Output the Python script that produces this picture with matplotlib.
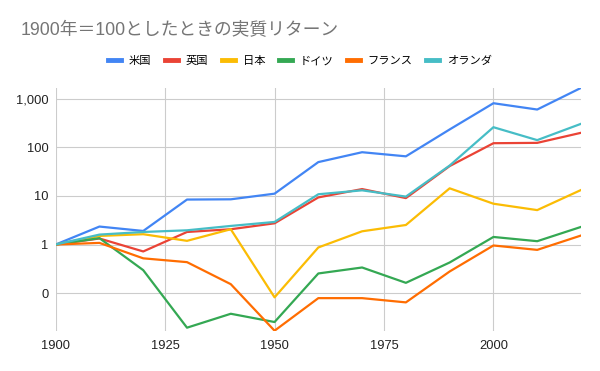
import numpy as np
import matplotlib
matplotlib.use('Agg')
import matplotlib.pyplot as plt
from matplotlib.ticker import FixedLocator, FixedFormatter

plt.rcParams['font.family'] = ['Liberation Sans', 'Noto Sans CJK JP', 'DejaVu Sans']

years = [1900, 1910, 1920, 1930, 1940, 1950, 1960, 1970, 1980, 1990, 2000, 2010, 2020]
usa = [1, 2.34, 1.90, 8.4, 8.5, 11.1, 49.5, 79, 65, 232, 803, 596, 1660]
uk = [1, 1.33, 0.72, 1.81, 2.06, 2.73, 9.3, 13.8, 9.0, 41, 121, 123, 198]
japan = [1, 1.50, 1.63, 1.19, 2.06, 0.082, 0.87, 1.87, 2.52, 14.3, 6.9, 5.1, 13.2]
germany = [1, 1.35, 0.297, 0.0195, 0.0377, 0.0255, 0.254, 0.337, 0.163, 0.427, 1.43, 1.17, 2.30]
france = [1, 1.08, 0.52, 0.434, 0.153, 0.0169, 0.079, 0.079, 0.0646, 0.279, 0.955, 0.776, 1.53]
netherlands = [1, 1.60, 1.81, 1.96, 2.41, 2.91, 10.8, 13.0, 9.66, 42, 258, 140, 303]

labels = ['米国', '英国', '日本', 'ドイツ', 'フランス', 'オランダ']
colors = ['#4285F4', '#EA4335', '#FBBC04', '#34A853', '#FF6D01', '#46BDC6']
series = [usa, uk, japan, germany, france, netherlands]

ytick_vals = [0.1, 1, 10, 100, 1000]
ytick_labels = ['0', '1', '10', '100', '1,000']
xtick_vals = [1900, 1925, 1950, 1975, 2000]

fig = plt.figure(figsize=(6, 3.71), dpi=100)
ax = fig.add_axes([0.0928, 0.1086, 0.8755, 0.6545])

for vals, lab, col in zip(series, labels, colors):
    ax.plot(years, vals, color=col, lw=1.6, label=lab, solid_joinstyle='round')

ax.set_yscale('log')
allv = np.concatenate([np.array(s) for s in series])
ax.set_ylim(allv.min(), allv.max())
ax.set_xlim(years[0], years[-1])

ax.yaxis.set_major_locator(FixedLocator(ytick_vals))
ax.yaxis.set_major_formatter(FixedFormatter(ytick_labels))
ax.yaxis.set_minor_locator(FixedLocator([]))
ax.set_xticks(xtick_vals)
ax.set_xticklabels([str(x) for x in xtick_vals])

ax.grid(True, color='#cccccc', lw=0.8)
ax.set_axisbelow(True)
for s in ax.spines.values():
    s.set_visible(False)
ax.tick_params(length=0, labelsize=9.3, colors='#222222')
ax.tick_params(axis='y', pad=5)
ax.tick_params(axis='x', pad=7)

fig.text(21 / 600, 1 - 31 / 371, '1900年＝100としたときの実質リターン', fontsize=12.8,
         color='#757575', va='center', ha='left',
         family=['Liberation Sans', 'Noto Sans CJK JP', 'DejaVu Sans'])

fig.legend(loc='center', bbox_to_anchor=(0.5, 1 - 61 / 371), ncol=6, frameon=False,
           handlelength=1.15, handletextpad=0.7, columnspacing=1.2,
           prop={'family': ['Noto Sans CJK JP', 'DejaVu Sans'], 'size': 8.1})
for line in fig.legends[0].get_lines():
    line.set_linewidth(3.5)

fig.savefig('out.png', dpi=100)
